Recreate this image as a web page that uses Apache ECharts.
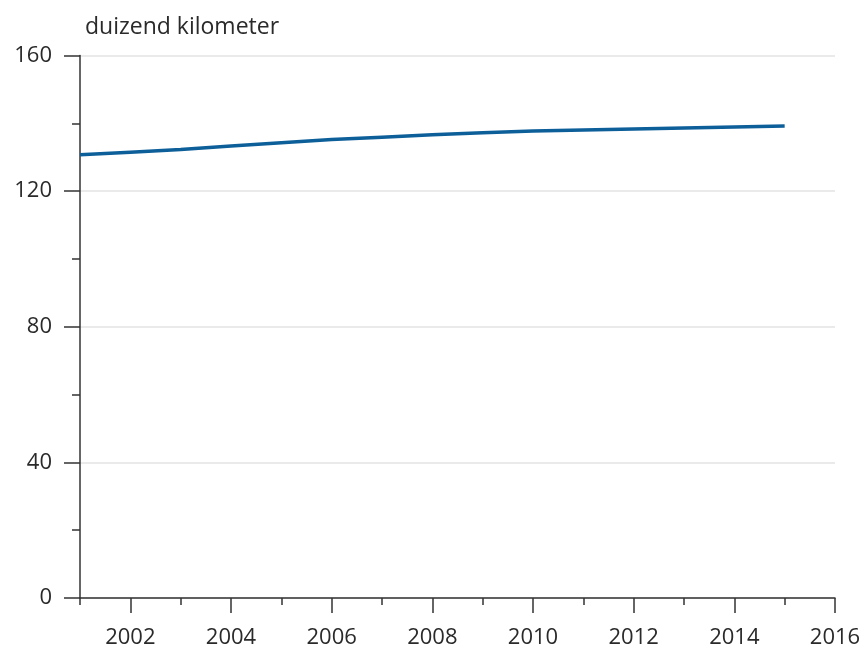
<!DOCTYPE html>
<html>
<head>
<meta charset="utf-8">
<script src="https://cdn.jsdelivr.net/npm/echarts@6/dist/echarts.min.js"></script>
<style>html,body{margin:0;padding:0;background:#fff}#c{width:864px;height:651px}</style>
</head>
<body>
<div id="c"></div>
<script>
const years = [2001,2002,2003,2004,2005,2006,2007,2008,2009,2010,2011,2012,2013,2014,2015];
const lengthKm = [130.7,131.5,132.3,133.3,134.3,135.2,135.9,136.6,137.2,137.7,138.0,138.3,138.6,138.9,139.2];
const majorYearTicks = [2002,2004,2006,2008,2010,2012,2014,2016];
const minorYearTicks = [2001,2003,2005,2007,2009,2011,2013,2015];
const unitLabel = 'duizend kilometer';

const chart = echarts.init(document.getElementById('c'), null, {renderer:'canvas'});
const font = 'Open Sans';
chart.setOption({
  animation: false,
  title: {
    text: unitLabel, left: 80, top: 11,
    textStyle: {fontFamily: font, fontSize: 23, fontWeight: 'normal', color: '#2a2a2a'}
  },
  grid: {left: 80, right: 29, top: 55.5, bottom: 53, containLabel: false},
  xAxis: [{
    type: 'value', min: 2001, max: 2016,
    axisLine: {show: true, lineStyle: {color: '#333', width: 1.5}},
    axisTick: {show: true, customValues: majorYearTicks, length: 15, lineStyle: {color: '#333', width: 1.5}},
    axisLabel: {customValues: majorYearTicks, margin: 29, fontFamily: font, fontSize: 22, color: '#2a2a2a',
      formatter: v => String(v)},
    splitLine: {show: false}
  }, {
    type: 'value', min: 2001, max: 2016, position: 'bottom',
    axisLine: {show: false},
    axisTick: {show: true, customValues: minorYearTicks, length: 7, lineStyle: {color: '#333', width: 1.5}},
    axisLabel: {show: false},
    splitLine: {show: false}
  }],
  yAxis: {
    type: 'value', min: 0, max: 160, interval: 40,
    axisLine: {show: true, lineStyle: {color: '#333', width: 1.5}},
    axisTick: {show: true, length: 16, lineStyle: {color: '#333', width: 1.5}},
    minorTick: {show: true, splitNumber: 2, length: 8, lineStyle: {color: '#333', width: 1.5}},
    axisLabel: {margin: 28, fontFamily: font, fontSize: 22, color: '#2a2a2a'},
    splitLine: {show: true, lineStyle: {color: '#e3e3e3', width: 1.5}}
  },
  series: [{
    type: 'line',
    data: years.map((y, i) => [y, lengthKm[i]]),
    showSymbol: false, symbol: 'none',
    lineStyle: {color: '#0d5f9a', width: 3.5},
    smooth: false
  }]
});
</script>
</body>
</html>
